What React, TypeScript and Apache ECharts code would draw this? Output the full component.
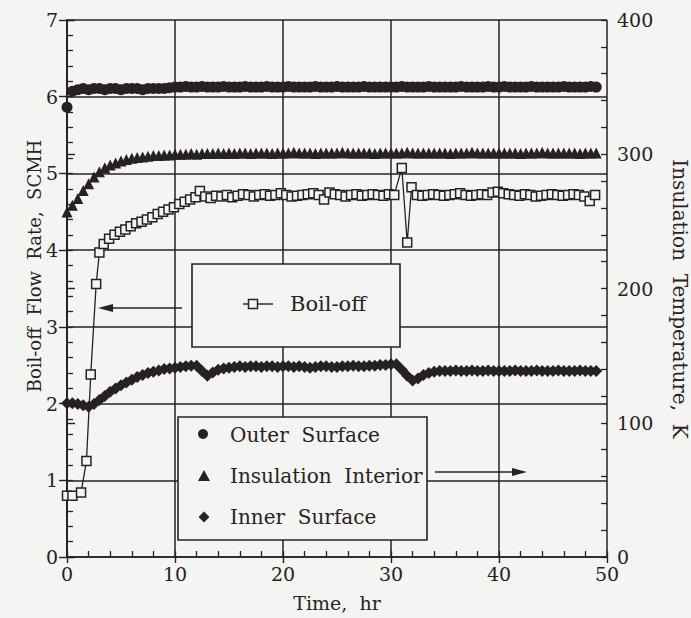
import React, { useEffect, useRef } from "react";
import * as echarts from "echarts";

// Time (hr) for the insulation temperature series
const tempTime = [
  0, 0.5, 1, 1.5, 2, 2.5, 3, 3.5, 4, 4.5,
  5, 5.5, 6, 6.5, 7, 7.5, 8, 8.5, 9, 9.5,
  10, 10.5, 11, 11.5, 12, 12.5, 13, 13.5, 14, 14.5,
  15, 15.5, 16, 16.5, 17, 17.5, 18, 18.5, 19, 19.5,
  20, 20.5, 21, 21.5, 22, 22.5, 23, 23.5, 24, 24.5,
  25, 25.5, 26, 26.5, 27, 27.5, 28, 28.5, 29, 29.5,
  30, 30.5, 31, 31.5, 32, 32.5, 33, 33.5, 34, 34.5,
  35, 35.5, 36, 36.5, 37, 37.5, 38, 38.5, 39, 39.5,
  40, 40.5, 41, 41.5, 42, 42.5, 43, 43.5, 44, 44.5,
  45, 45.5, 46, 46.5, 47, 47.5, 48, 48.5, 49,
];

// Outer Surface temperature, K
const outerSurface = [
  335, 347, 348, 349, 348, 349, 349, 348, 349, 349,
  348, 349, 349, 349, 348, 349, 349, 349, 349, 349.5,
  350, 350, 350.5, 350, 350, 350.5, 350, 350, 350, 350.5,
  350, 350, 350, 350.5, 350, 350, 350, 350.5, 350, 350,
  350, 350.5, 350, 350, 350, 350, 350.5, 350, 350, 350,
  350.5, 350, 350, 350, 350, 350.5, 350, 350, 350, 350,
  350, 350, 350.5, 350, 350, 350, 350, 350.5, 350, 350,
  350, 350, 350, 350.5, 350, 350, 350, 350, 350.5, 350,
  350, 350.5, 350, 350, 350, 350, 350.5, 350, 350, 350,
  350, 350, 350.5, 350, 350, 350, 350, 350.5, 350,
];

// Insulation Interior temperature, K
const insulationInterior = [
  257, 262, 267, 273, 278, 283, 287, 290, 292, 293.5,
  295, 296, 297, 297.5, 298, 298.5, 299, 299, 299.5, 299.5,
  300, 300, 300, 300.5, 300, 300.5, 300.5, 300.5, 301, 300.5,
  301, 300.5, 301, 301, 300.5, 301, 301, 301, 300.5, 301,
  301, 301, 301.5, 301, 301, 301, 300.5, 301, 301, 301,
  301, 301.5, 301, 301, 301, 301, 301, 300.5, 301, 301,
  301, 301, 301, 301.5, 301, 301, 301, 301, 301, 301,
  301, 300.5, 301, 301, 301, 301.5, 301, 301, 301, 301,
  301, 301, 301, 301, 300.5, 301, 301, 301, 301.5, 301,
  301, 301, 301, 301, 301, 300.5, 301, 301, 301,
];

// Inner Surface temperature, K
const innerSurface = [
  114.5, 114.5, 114, 113, 112, 114, 117, 120, 123, 125.5,
  128, 130, 132, 134, 135.5, 137, 138, 139, 140, 140.5,
  141, 141.5, 142, 142.5, 142.5, 138.5, 135, 137.5, 139.5, 140.5,
  141, 141.5, 142, 141.5, 142, 142, 141.5, 142, 142, 141.5,
  142, 142, 141.5, 142, 141.5, 141, 141.5, 142, 142, 141.5,
  141.5, 142, 142, 142.5, 142, 142, 142.5, 142.5, 143, 143,
  143.5, 143.5, 139.5, 135, 131.5, 133, 135.5, 137, 138, 138.5,
  138.5, 138.5, 139, 138.5, 138.5, 139, 138.5, 138.5, 139, 138.5,
  138.5, 138.5, 138.5, 139, 138.5, 138.5, 138.5, 139, 138.5, 138.5,
  138.5, 139, 138.5, 138.5, 138.5, 139, 138.5, 138.5, 138.5,
];

// Boil-off flow rate (SCMH) and its sample times (hr)
const boilTime = [
  0, 0.5, 1.3, 1.8, 2.2, 2.7, 3.0, 3.4, 3.9, 4.4,
  4.9, 5.4, 5.9, 6.4, 6.9, 7.4, 7.9, 8.4, 8.9, 9.4,
  9.9, 10.4, 10.9, 11.4, 11.9, 12.3, 12.8, 13.3, 13.8,
  14.3, 14.8, 15.3, 15.8, 16.3, 16.8, 17.3, 17.8, 18.3, 18.8,
  19.3, 19.8, 20.3, 20.8, 21.3, 21.8, 22.3, 22.8, 23.3, 23.8,
  24.3, 24.8, 25.3, 25.8, 26.3, 26.8, 27.3, 27.8, 28.3, 28.8,
  29.3, 29.8, 30.3,
  31.0, 31.5, 31.9,
  32.4, 32.9, 33.4, 33.9, 34.4, 34.9, 35.4, 35.9, 36.4, 36.9,
  37.4, 37.9, 38.4, 38.9, 39.4, 39.9, 40.4, 40.9, 41.4, 41.9,
  42.4, 42.9, 43.4, 43.9, 44.4, 44.9, 45.4, 45.9, 46.4, 46.9,
  47.4, 47.9, 48.4,
  48.9,
];
const boilOff = [
  0.8, 0.8, 0.84, 1.25, 2.38, 3.56, 3.97, 4.08, 4.15, 4.2,
  4.24, 4.27, 4.31, 4.35, 4.37, 4.4, 4.43, 4.47, 4.5, 4.53,
  4.56, 4.6, 4.63, 4.66, 4.69, 4.77, 4.7, 4.68, 4.71,
  4.7, 4.72, 4.69, 4.71, 4.73, 4.72, 4.7, 4.72, 4.73, 4.71,
  4.72, 4.74, 4.72, 4.7, 4.71, 4.72, 4.73, 4.74, 4.72, 4.66,
  4.75, 4.73, 4.72, 4.7, 4.72, 4.73, 4.71, 4.72, 4.73, 4.72,
  4.71, 4.73, 4.72,
  5.07, 4.1, 4.82,
  4.72, 4.71, 4.72, 4.73, 4.72, 4.71, 4.72, 4.73, 4.74, 4.72,
  4.71, 4.72, 4.73, 4.72, 4.75, 4.76, 4.74, 4.73, 4.72, 4.71,
  4.73, 4.72, 4.7, 4.71, 4.72, 4.73, 4.72, 4.71, 4.72, 4.73,
  4.72, 4.7, 4.64,
  4.72,
];

const xTicks = { min: 0, max: 50, interval: 10 };
const leftTicks = { min: 0, max: 7, interval: 1 };
const rightTicks = { min: 0, max: 400, interval: 100 };

const INK = "#272123";
const BG = "#f4f4f3";
const FONT = "DejaVu Serif";

export default function App() {
  const ref = useRef<HTMLDivElement>(null);

  useEffect(() => {
    if (!ref.current) return;
    const chart = echarts.init(ref.current, null, { renderer: "svg" });

    const axisLine = { show: true, lineStyle: { color: INK, width: 1.7 } };
    const label = { fontFamily: FONT, fontSize: 19, color: INK };
    const split = { show: true, lineStyle: { color: INK, width: 1.5 } };

    const pairs = (xs: number[], ys: number[]) => xs.map((x, i) => [x, ys[i]]);

    const option: any = {
      animation: false,
      backgroundColor: BG,
      grid: { left: 67, right: 84, top: 20, bottom: 61 },
      xAxis: [
        {
          type: "value",
          position: "bottom",
          ...xTicks,
          axisLine,
          axisTick: { show: true, inside: false, length: 6, lineStyle: { color: INK, width: 1.4 } },
          axisLabel: { ...label, margin: 7 },
          splitLine: split,
        },
        {
          type: "value",
          position: "bottom",
          ...xTicks,
          axisLine: { show: false },
          axisTick: { show: true, inside: true, length: 6, lineStyle: { color: INK, width: 1.3 } },
          minorTick: { show: true, splitNumber: 5, length: 6, lineStyle: { color: INK, width: 1.3 } },
          axisLabel: { show: false },
          splitLine: { show: false },
        },
      ],
      yAxis: [
        {
          type: "value",
          position: "left",
          ...leftTicks,
          axisLine,
          axisTick: { show: true, inside: false, length: 8, lineStyle: { color: INK, width: 1.4 } },
          axisLabel: { ...label, margin: 9 },
          splitLine: split,
        },
        {
          type: "value",
          position: "right",
          ...rightTicks,
          axisLine,
          axisTick: { show: true, inside: false, length: 8, lineStyle: { color: INK, width: 1.4 } },
          axisLabel: { ...label, margin: 10 },
          splitLine: { show: false },
        },
        {
          type: "value",
          position: "left",
          ...leftTicks,
          axisLine: { show: false },
          axisTick: { show: true, inside: true, length: 6, lineStyle: { color: INK, width: 1.3 } },
          minorTick: { show: true, splitNumber: 5, length: 6, lineStyle: { color: INK, width: 1.3 } },
          axisLabel: { show: false },
          splitLine: { show: false },
        },
        {
          type: "value",
          position: "right",
          ...rightTicks,
          axisLine: { show: false },
          axisTick: { show: true, inside: true, length: 6, lineStyle: { color: INK, width: 1.3 } },
          minorTick: { show: true, splitNumber: 5, length: 6, lineStyle: { color: INK, width: 1.3 } },
          axisLabel: { show: false },
          splitLine: { show: false },
        },
      ],
      series: [
        {
          name: "Outer Surface",
          type: "scatter",
          xAxisIndex: 0,
          yAxisIndex: 1,
          symbol: "circle",
          symbolSize: 11,
          itemStyle: { color: INK, opacity: 1 },
          data: pairs(tempTime, outerSurface),
        },
        {
          name: "Insulation Interior",
          type: "scatter",
          xAxisIndex: 0,
          yAxisIndex: 1,
          symbol: "triangle",
          symbolSize: 11,
          itemStyle: { color: INK, opacity: 1 },
          data: pairs(tempTime, insulationInterior),
        },
        {
          name: "Inner Surface",
          type: "scatter",
          xAxisIndex: 0,
          yAxisIndex: 1,
          symbol: "diamond",
          symbolSize: 12,
          itemStyle: { color: INK, opacity: 1 },
          data: pairs(tempTime, innerSurface),
        },
        {
          name: "Boil-off",
          type: "line",
          xAxisIndex: 0,
          yAxisIndex: 0,
          symbol: "rect",
          symbolSize: 9,
          showSymbol: true,
          showAllSymbol: true,
          lineStyle: { color: INK, width: 1.3 },
          itemStyle: { color: BG, borderColor: INK, borderWidth: 1.5 },
          data: pairs(boilTime, boilOff),
          z: 3,
        },
      ],
      graphic: [
        // Axis titles
        {
          type: "text",
          x: 34,
          y: 266,
          rotation: Math.PI / 2,
          style: {
            text: "Boil-off  Flow  Rate,  SCMH",
            fontFamily: FONT,
            fontSize: 18,
            fill: INK,
            align: "center",
            verticalAlign: "middle",
          },
          z: 101,
        },
        {
          type: "text",
          x: 680,
          y: 299,
          rotation: -Math.PI / 2,
          style: {
            text: "Insulation  Temperature,  K",
            fontFamily: FONT,
            fontSize: 20,
            fill: INK,
            align: "center",
            verticalAlign: "middle",
          },
          z: 101,
        },
        {
          type: "text",
          x: 337,
          y: 603,
          style: {
            text: "Time,  hr",
            fontFamily: FONT,
            fontSize: 19,
            fill: INK,
            align: "center",
            verticalAlign: "middle",
          },
          z: 101,
        },
        // Boil-off legend box
        {
          type: "rect",
          shape: { x: 192, y: 264, width: 208, height: 83 },
          style: { fill: BG, stroke: INK, lineWidth: 1.6 },
          z: 100,
        },
        {
          type: "line",
          shape: { x1: 243, y1: 304, x2: 273, y2: 304 },
          style: { stroke: INK, lineWidth: 1.4 },
          z: 101,
        },
        {
          type: "rect",
          shape: { x: 248.5, y: 299.5, width: 9, height: 9 },
          style: { fill: BG, stroke: INK, lineWidth: 1.5 },
          z: 102,
        },
        {
          type: "text",
          x: 290,
          y: 304,
          style: { text: "Boil-off", fontFamily: FONT, fontSize: 21, fill: INK, verticalAlign: "middle" },
          z: 102,
        },
        // Left-pointing arrow
        {
          type: "line",
          shape: { x1: 182, y1: 308, x2: 108, y2: 308 },
          style: { stroke: INK, lineWidth: 1.5 },
          z: 101,
        },
        {
          type: "polygon",
          shape: { points: [[98, 308], [113, 304], [113, 312]] },
          style: { fill: INK },
          z: 101,
        },
        // Temperature legend box
        {
          type: "rect",
          shape: { x: 178, y: 417, width: 249, height: 123 },
          style: { fill: BG, stroke: INK, lineWidth: 1.6 },
          z: 100,
        },
        {
          type: "circle",
          shape: { cx: 203, cy: 434, r: 5 },
          style: { fill: INK },
          z: 101,
        },
        {
          type: "polygon",
          shape: { points: [[204, 470], [210, 481], [198, 481]] },
          style: { fill: INK },
          z: 101,
        },
        {
          type: "polygon",
          shape: { points: [[204, 511.5], [209.5, 517], [204, 522.5], [198.5, 517]] },
          style: { fill: INK },
          z: 101,
        },
        {
          type: "text",
          x: 230,
          y: 435,
          style: { text: "Outer  Surface", fontFamily: FONT, fontSize: 20, fill: INK, verticalAlign: "middle" },
          z: 101,
        },
        {
          type: "text",
          x: 230,
          y: 476,
          style: { text: "Insulation  Interior", fontFamily: FONT, fontSize: 20, fill: INK, verticalAlign: "middle" },
          z: 101,
        },
        {
          type: "text",
          x: 230,
          y: 517,
          style: { text: "Inner  Surface", fontFamily: FONT, fontSize: 20, fill: INK, verticalAlign: "middle" },
          z: 101,
        },
        // Right-pointing arrow
        {
          type: "line",
          shape: { x1: 435, y1: 472, x2: 515, y2: 472 },
          style: { stroke: INK, lineWidth: 1.5 },
          z: 101,
        },
        {
          type: "polygon",
          shape: { points: [[527, 472], [512, 468], [512, 476]] },
          style: { fill: INK },
          z: 101,
        },
      ],
    };

    chart.setOption(option);
    return () => chart.dispose();
  }, []);

  return (
    <div
      ref={ref}
      style={{ position: "fixed", left: 0, top: 0, width: 691, height: 618 }}
    />
  );
}
